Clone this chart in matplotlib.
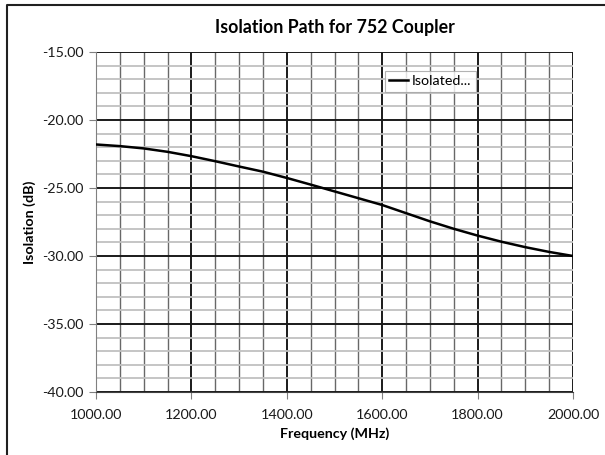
import numpy as np
import matplotlib
matplotlib.use("Agg")
import matplotlib.pyplot as plt
from matplotlib.lines import Line2D
from matplotlib.ticker import MultipleLocator, FormatStrFormatter

plt.rcParams["font.family"] = ["Lato", "DejaVu Sans"]

# data
freq = [1000, 1050, 1100, 1150, 1200, 1250, 1300, 1350, 1400, 1450, 1500,
        1550, 1600, 1650, 1700, 1750, 1800, 1850, 1900, 1950, 2000]
isolation = [-21.8, -21.92, -22.09, -22.34, -22.66, -23.03, -23.42, -23.8, -24.26,
             -24.75, -25.25, -25.75, -26.25, -26.85, -27.45, -28.0, -28.5, -28.95,
             -29.35, -29.7, -30.0]
series_name = "Isolated..."

fig = plt.figure(figsize=(6.05, 4.55), dpi=100)
# chart-area border, only the left and top edges are in the crop
fig.add_artist(Line2D([7 / 605, 7 / 605, 1], [0, 1 - 5 / 455, 1 - 5 / 455],
                      color="#202020", linewidth=1.5))
ax = fig.add_axes([96 / 605, 1 - 392 / 455, 477 / 605, 340 / 455])

ax.plot(freq, isolation, color="black", linewidth=1.8, label=series_name, zorder=5)

ax.set_xlim(1000, 2000)
ax.set_ylim(-40, -15)
ax.xaxis.set_major_locator(MultipleLocator(200))
ax.xaxis.set_minor_locator(MultipleLocator(50))
ax.yaxis.set_major_locator(MultipleLocator(5))
ax.yaxis.set_minor_locator(MultipleLocator(1))
ax.xaxis.set_major_formatter(FormatStrFormatter("%.2f"))
ax.yaxis.set_major_formatter(FormatStrFormatter("%.2f"))

ax.grid(which="major", color="#1a1a1a", linewidth=1.4)
ax.grid(which="minor", axis="x", color="#686868", linewidth=1.0)
ax.grid(which="minor", axis="y", color="#c0c0c0", linewidth=1.3)
ax.set_axisbelow(True)

for side in ["top", "right"]:
    ax.spines[side].set_visible(False)
ax.spines["left"].set_color("#808080")
ax.spines["bottom"].set_color("#404040")
ax.tick_params(which="major", length=5, color="#808080", labelsize=10.3, labelcolor="#1a1a1a")
ax.tick_params(axis="x", which="major", pad=7)
ax.tick_params(axis="y", which="major", pad=4)
ax.tick_params(which="minor", length=0)

ax.set_title("Isolation Path for 752 Coupler", fontsize=12.8, fontweight="bold", pad=14)
ax.set_xlabel("Frequency (MHz)", fontsize=10.3, fontweight="bold", labelpad=5)
ax.set_ylabel("Isolation (dB)", fontsize=10.3, fontweight="bold", labelpad=4)

leg = ax.legend(loc="upper left", bbox_to_anchor=((385 - 96) / 477, (392 - 71) / 340),
                frameon=True, fancybox=False, fontsize=10.3, handlelength=1.3,
                handletextpad=0.3, borderpad=0.3, borderaxespad=0)
leg.get_frame().set_edgecolor("#a0a0a0")
leg.get_frame().set_linewidth(0.8)

fig.savefig("out.png", dpi=100)
